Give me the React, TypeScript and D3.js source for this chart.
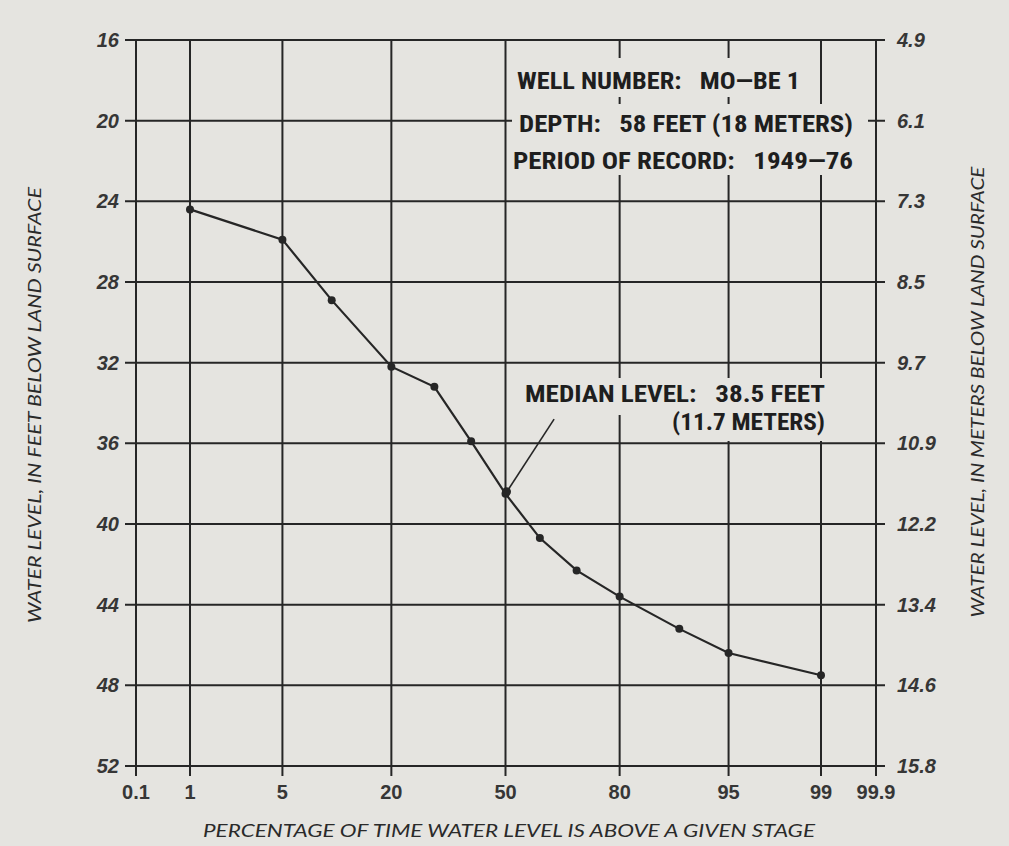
import React from 'react';
import * as d3 from 'd3';

// values
const feetTicks = [16, 20, 24, 28, 32, 36, 40, 44, 48, 52];
const meterLabels = ['4.9', '6.1', '7.3', '8.5', '9.7', '10.9', '12.2', '13.4', '14.6', '15.8'];
const pctTicks = [0.1, 1, 5, 20, 50, 80, 95, 99, 99.9];
const pctLabels = ['0.1', '1', '5', '20', '50', '80', '95', '99', '99.9'];
const exceedPct = [1, 5, 10, 20, 30, 40, 50, 60, 70, 80, 90, 95, 99];
const depthFt = [24.4, 25.9, 28.9, 32.2, 33.2, 35.9, 38.5, 40.7, 42.3, 43.6, 45.2, 46.4, 47.5];
const medianPct = 50;
const medianFt = 38.5;

const W = 1009;
const H = 846;
const bg = '#e5e4e0';
const ink = '#262626';
const condensed = '"Liberation Sans Narrow", "Roboto Condensed", "DejaVu Sans Condensed", Arial, sans-serif';
const tickFont = '"Liberation Sans", Arial, sans-serif';
const geometric = 'Lato, "Open Sans", "DejaVu Sans", sans-serif';

// inverse normal CDF (Acklam), used for the probability axis
const probit = (p: number) => {
  const a = [-39.69683028665376, 220.9460984245205, -275.9285104469687, 138.357751867269, -30.66479806614716, 2.506628277459239];
  const b = [-54.47609879822406, 161.5858368580409, -155.6989798598866, 66.80131188771972, -13.28068155288572];
  const c = [-0.007784894002430293, -0.3223964580411365, -2.400758277161838, -2.549732539343734, 4.374664141464968, 2.938163982698783];
  const d = [0.007784695709041462, 0.3224671290700398, 2.445134137142996, 3.754408661907416];
  const pl = 0.02425;
  if (p < pl) {
    const q = Math.sqrt(-2 * Math.log(p));
    return (((((c[0] * q + c[1]) * q + c[2]) * q + c[3]) * q + c[4]) * q + c[5]) / ((((d[0] * q + d[1]) * q + d[2]) * q + d[3]) * q + 1);
  }
  if (p > 1 - pl) {
    const q = Math.sqrt(-2 * Math.log(1 - p));
    return -(((((c[0] * q + c[1]) * q + c[2]) * q + c[3]) * q + c[4]) * q + c[5]) / ((((d[0] * q + d[1]) * q + d[2]) * q + d[3]) * q + 1);
  }
  const q = p - 0.5;
  const r = q * q;
  return ((((((a[0] * r + a[1]) * r + a[2]) * r + a[3]) * r + a[4]) * r + a[5]) * q) / (((((b[0] * r + b[1]) * r + b[2]) * r + b[3]) * r + b[4]) * r + 1);
};

const pre = { whiteSpace: 'pre' as const };

const App = () => {
  // probability paper: linear in z between 1 and 99, frame edges labelled 0.1 / 99.9
  const zScale = d3
    .scaleLinear()
    .domain([probit(0.001), probit(0.01), probit(0.99), probit(0.999)])
    .range([136, 190, 821, 876]);
  const x = (pct: number) => zScale(probit(pct / 100));

  const y = d3.scaleLinear().domain([16, 52]).range([40, 766]);

  const x0 = x(pctTicks[0]);
  const x1 = x(pctTicks[pctTicks.length - 1]);
  const yTop = y(feetTicks[0]);
  const yBot = y(feetTicks[feetTicks.length - 1]);

  const pts = exceedPct.map((p, i) => [x(p), y(depthFt[i])] as [number, number]);
  const line = d3.line()(pts) || '';

  const mx = x(medianPct);
  const my = y(medianFt);
  const arrowEnd = [x(64), y(34.8)];

  return (
    <svg width={W} height={H} style={{ position: 'absolute', left: 0, top: 0, background: bg }}>
      <rect width={W} height={H} fill={bg} />

      {/* grid, with ticks running past the frame */}
      <g stroke={ink} strokeWidth={2}>
        {feetTicks.map((f) => (
          <line key={f} x1={x0 - 11} x2={x1 + 9} y1={y(f)} y2={y(f)} />
        ))}
        {pctTicks.map((p) => (
          <line key={p} x1={x(p)} x2={x(p)} y1={yTop} y2={yBot + 10} />
        ))}
      </g>

      {/* left labels (feet) */}
      <g fontFamily={tickFont} fontWeight="bold" fontStyle="italic" fontSize={20} fill="#363636" textAnchor="end">
        {feetTicks.map((f) => (
          <text key={f} x={x0 - 17} y={y(f) + 7}>
            {f}
          </text>
        ))}
      </g>
      {/* right labels (meters) */}
      <g fontFamily={tickFont} fontWeight="bold" fontStyle="italic" fontSize={20} fill="#363636" textAnchor="start">
        {meterLabels.map((m, i) => (
          <text key={m} x={x1 + 21} y={y(feetTicks[i]) + 7}>
            {m}
          </text>
        ))}
      </g>
      {/* bottom labels (percent) */}
      <g fontFamily={tickFont} fontWeight="bold" fontSize={20} fill="#363636" textAnchor="middle">
        {pctTicks.map((p, i) => (
          <text key={p} x={x(p)} y={yBot + 33}>
            {pctLabels[i]}
          </text>
        ))}
      </g>

      {/* well info block, masks the grid behind it */}
      <g fill={bg}>
        <rect x={512} y={58} width={293} height={39} />
        <rect x={512} y={104} width={356} height={37} />
        <rect x={508} y={141} width={352} height={34} />
        <rect x={520} y={378} width={310} height={37} />
        <rect x={665} y={415} width={165} height={26} />
      </g>
      <g fontFamily={condensed} fontWeight="bold" fontSize={24} fill="#1e1e1e">
        <text x={517} y={89} xmlSpace="preserve" style={pre} textLength={283} lengthAdjust="spacingAndGlyphs">
          {'WELL NUMBER:   MO—BE 1'}
        </text>
        <text x={519} y={132} xmlSpace="preserve" style={pre} textLength={334} lengthAdjust="spacingAndGlyphs">
          {'DEPTH:   58 FEET (18 METERS)'}
        </text>
        <text x={513} y={169} xmlSpace="preserve" style={pre} textLength={340} lengthAdjust="spacingAndGlyphs">
          {'PERIOD OF RECORD:   1949—76'}
        </text>
        <text x={525} y={402} fontSize={23} xmlSpace="preserve" style={pre} textLength={300} lengthAdjust="spacingAndGlyphs">
          {'MEDIAN LEVEL:   38.5 FEET'}
        </text>
        <text x={672} y={430} fontSize={23} textLength={153} lengthAdjust="spacingAndGlyphs">
          {'(11.7 METERS)'}
        </text>
      </g>

      {/* duration curve */}
      <path d={line} fill="none" stroke={ink} strokeWidth={2.2} />
      <g fill={ink}>
        {pts.map(([px, py], i) => (
          <circle key={i} cx={px} cy={py} r={4} />
        ))}
      </g>

      {/* median pointer */}
      <line x1={mx} y1={my} x2={arrowEnd[0]} y2={arrowEnd[1]} stroke={ink} strokeWidth={1.6} />
      <circle cx={mx + 1} cy={my - 2} r={4.5} fill={ink} />

      {/* axis titles */}
      <text
        transform={`translate(41,405) rotate(-90)`}
        textAnchor="middle"
        fontFamily={geometric}
        fontStyle="italic"
        fontSize={17}
        fill="#2a2a2a"
        textLength={436}
        lengthAdjust="spacingAndGlyphs"
      >
        WATER LEVEL, IN FEET BELOW LAND SURFACE
      </text>
      <text
        transform={`translate(984,392) rotate(-90)`}
        textAnchor="middle"
        fontFamily={geometric}
        fontStyle="italic"
        fontSize={17}
        fill="#2a2a2a"
        textLength={451}
        lengthAdjust="spacingAndGlyphs"
      >
        WATER LEVEL, IN METERS BELOW LAND SURFACE
      </text>
      <text
        x={509}
        y={837}
        textAnchor="middle"
        fontFamily={geometric}
        fontStyle="italic"
        fontSize={17}
        fill="#2a2a2a"
        textLength={612}
        lengthAdjust="spacingAndGlyphs"
      >
        PERCENTAGE OF TIME WATER LEVEL IS ABOVE A GIVEN STAGE
      </text>
    </svg>
  );
};

export default App;
